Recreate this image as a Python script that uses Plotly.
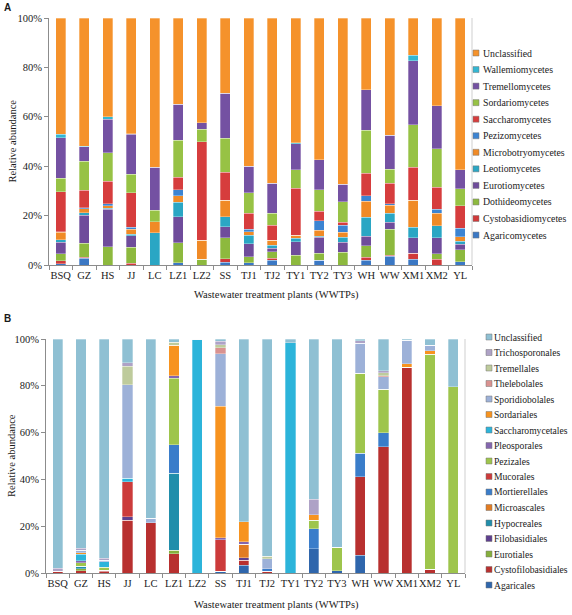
import plotly.graph_objects as go

# ---------------- data ----------------
plants = ["BSQ", "GZ", "HS", "JJ", "LC", "LZ1", "LZ2", "SS", "TJ1", "TJ2",
          "TY1", "TY2", "TY3", "WH", "WW", "XM1", "XM2", "YL"]

# Panel A: classes (relative abundance, %)
agaricomycetes      = [0.5, 2.7, 0, 0, 0, 1.0, 0, 1.2, 1.0, 2.0, 0, 2.0, 0, 2.0, 3.6, 2.4, 0, 1.3]
cystobasidiomycetes = [1.3, 0.5, 0, 0.8, 0, 0, 0, 1.3, 0, 0.7, 0, 0, 0, 1.1, 0.4, 2.3, 2.4, 0]
dothideomycetes     = [2.7, 5.7, 7.3, 6.5, 0, 8.0, 2.4, 8.5, 2.4, 2.7, 4.0, 2.7, 5.1, 4.7, 10.4, 0, 2.1, 4.8]
eurotiomycetes      = [4.7, 11.4, 15.2, 4.5, 0, 10.5, 0, 4.5, 5.1, 1.3, 5.4, 6.5, 4.1, 3.9, 2.9, 6.4, 6.6, 2.3]
leotiomycetes       = [1.0, 1.0, 0.5, 0.7, 13.1, 6.0, 0, 4.0, 3.5, 1.4, 1.4, 0.5, 2.0, 7.6, 3.6, 4.2, 4.7, 1.3]
microbotryomycetes  = [3.0, 1.5, 1.0, 2.0, 4.5, 2.5, 7.6, 6.8, 1.5, 2.0, 1.3, 2.5, 2.0, 6.6, 3.4, 11.0, 5.1, 1.8]
pezizomycetes       = [0.3, 0.5, 0.8, 0.8, 0, 2.5, 0, 0, 1.0, 0, 0, 3.8, 3.0, 2.2, 0.6, 0, 1.6, 3.3]
saccharomycetes     = [16.0, 7.1, 9.2, 14.0, 0, 5.0, 40.0, 11.2, 6.5, 6.1, 18.9, 3.8, 1.1, 9.0, 8.2, 13.2, 8.9, 9.1]
sordariomycetes     = [5.5, 11.8, 11.5, 7.5, 4.5, 15.0, 5.0, 13.8, 8.3, 4.7, 7.5, 8.8, 8.3, 17.6, 5.8, 17.2, 15.6, 6.9]
tremellomycetes     = [16.5, 5.8, 13.5, 16.2, 17.5, 14.5, 2.5, 18.2, 10.6, 12.2, 10.5, 12.1, 7.2, 16.4, 13.7, 26.0, 17.4, 7.7]
wallemiomycetes     = [1.3, 0.3, 1.0, 0.3, 0, 0, 0, 0, 0, 0, 0.5, 0, 0, 0, 0, 2.3, 0, 0]
unclassified_a      = [47.0, 52.0, 40.0, 47.0, 60.5, 35.0, 42.5, 30.5, 60.0, 67.0, 50.5, 57.5, 67.5, 29.0, 47.5, 15.0, 35.5, 61.5]

class_names = ["Agaricomycetes", "Cystobasidiomycetes", "Dothideomycetes", "Eurotiomycetes",
               "Leotiomycetes", "Microbotryomycetes", "Pezizomycetes", "Saccharomycetes",
               "Sordariomycetes", "Tremellomycetes", "Wallemiomycetes", "Unclassified"]
class_values = [agaricomycetes, cystobasidiomycetes, dothideomycetes, eurotiomycetes,
                leotiomycetes, microbotryomycetes, pezizomycetes, saccharomycetes,
                sordariomycetes, tremellomycetes, wallemiomycetes, unclassified_a]
class_colors = ["#3B78C4", "#D03A3A", "#8DB93E", "#6F4C9B", "#2AA6C4", "#F08A26",
                "#3C84D2", "#D63D3D", "#97C245", "#7451A2", "#33B6D2", "#F5922B"]

# Panel B: orders (relative abundance, %)
agaricales          = [0, 0, 0, 0, 0, 0, 0, 0.8, 3.3, 0, 0, 10.4, 1.0, 7.6, 0, 0, 0, 0]
cystofilobasidiales = [0.8, 1.0, 0.7, 22.5, 21.5, 8.3, 0, 0, 2.1, 0.8, 0, 0, 0, 33.5, 53.9, 87.9, 1.5, 0]
eurotiales          = [0, 0.8, 0.5, 0, 0, 1.4, 0, 0, 0, 0, 0, 0, 0, 0, 0, 0, 0, 0]
filobasidiales      = [0, 0, 0, 1.5, 0, 0, 0, 0, 1.2, 0, 0, 0, 0, 0, 0, 0, 0, 0]
hypocreales         = [0, 1.0, 0, 0, 0, 33.0, 0, 0, 0, 0, 0, 0, 0, 0, 0, 0, 0, 0]
microascales        = [0, 0, 0, 0, 0, 0, 0, 0, 5.7, 0, 0, 0, 0, 0, 0, 0, 0, 0]
mortierellales      = [0, 0, 0, 0, 0, 12.2, 0, 0, 0, 1.0, 0, 8.6, 0, 10.0, 6.0, 0, 0, 0]
mucorales           = [0, 0, 0, 15.0, 0, 0, 0, 13.5, 0, 0, 0, 0, 0, 0, 0, 0, 0, 0]
pezizales           = [0, 1.5, 1.2, 0, 0, 28.3, 0, 0, 0, 0, 0, 3.5, 10.1, 34.2, 18.6, 0, 92.0, 79.6]
pleosporales        = [0, 1.0, 0, 0, 0, 1.0, 0, 0.7, 1.0, 0, 0, 0, 0, 0, 0, 0, 0, 0]
saccharomycetales   = [0, 2.8, 2.3, 1.4, 0, 0, 100.0, 0, 0, 0, 98.3, 0, 0, 0, 0, 0, 0, 0]
sordariales         = [0, 0.6, 0, 0, 0, 13.2, 0, 56.3, 8.5, 0, 0, 2.5, 0, 0, 0, 1.6, 1.4, 0]
sporidiobolales     = [0, 1.0, 0.8, 40.0, 1.8, 0, 0, 22.5, 0, 4.2, 0, 0, 0, 12.9, 5.4, 10.0, 2.5, 0]
thelebolales        = [0, 0, 0, 0, 0, 0, 0, 2.5, 0, 0, 0, 0, 0, 0, 0.5, 0, 0, 0]
tremellales         = [0, 0, 0, 8.0, 0, 1.3, 0, 1.2, 0, 1.2, 0, 0, 0, 0, 1.2, 0, 0, 0]
trichosporonales    = [1.2, 0.8, 0.8, 1.4, 0, 0, 0, 1.5, 0, 0, 0, 6.5, 0, 1.1, 0.8, 0, 0, 0]
unclassified_b      = [98.0, 89.5, 93.5, 10.2, 76.7, 1.3, 0, 1.0, 78.2, 92.8, 1.7, 68.5, 88.9, 0.7, 13.6, 0.5, 2.6, 20.4]

order_names = ["Agaricales", "Cystofilobasidiales", "Eurotiales", "Filobasidiales", "Hypocreales",
               "Microascales", "Mortierellales", "Mucorales", "Pezizales", "Pleosporales",
               "Saccharomycetales", "Sordariales", "Sporidiobolales", "Thelebolales",
               "Tremellales", "Trichosporonales", "Unclassified"]
order_values = [agaricales, cystofilobasidiales, eurotiales, filobasidiales, hypocreales,
                microascales, mortierellales, mucorales, pezizales, pleosporales,
                saccharomycetales, sordariales, sporidiobolales, thelebolales,
                tremellales, trichosporonales, unclassified_b]
order_colors = ["#2F66AC", "#B8302F", "#86AF3C", "#5E3F8E", "#218EAB", "#E27C22",
                "#3A7DCA", "#CC3B3B", "#9EC54C", "#8466AE", "#2CB4DA", "#F7931F",
                "#9DB1D8", "#D99290", "#BECB9C", "#AEA2C6", "#8FC0D3"]

x_title = "Wastewater treatment plants (WWTPs)"
y_title = "Relative abundance"

# ---------------- layout helpers ----------------
W, H = 572, 615
ML, MR, MT, MB = 46, 100, 18, 42
PW, PH = W - ML - MR, H - MT - MB


def px_x(px):
    return (px - ML) / PW


def px_y(py):
    return (H - MB - py) / PH


SERIF = "Liberation Serif"
TXT = "#1a1a1a"
FS = 10.5

fig = go.Figure()

for name, vals, col in zip(class_names, class_values, class_colors):
    fig.add_trace(go.Bar(x=plants, y=vals, name=name, marker_color=col,
                         marker_line=dict(color="rgba(255,255,255,0.5)", width=0.6),
                         xaxis="x", yaxis="y", showlegend=False))

for name, vals, col in zip(order_names, order_values, order_colors):
    fig.add_trace(go.Bar(x=plants, y=vals, name=name, marker_color=col,
                         marker_line=dict(color="rgba(255,255,255,0.5)", width=0.6),
                         xaxis="x2", yaxis="y2", showlegend=False))

axis_common = dict(showline=True, linecolor="#8C8C8C", linewidth=1, ticks="outside",
                   tickcolor="#8C8C8C", ticklen=4, showgrid=False, zeroline=False,
                   automargin=False,
                   tickfont=dict(family=SERIF, size=FS, color=TXT))

xA = dict(axis_common, domain=[px_x(49), px_x(472)], anchor="y", tickson="boundaries",
          tickangle=0)
yA = dict(axis_common, domain=[px_y(265), px_y(18)], anchor="x", range=[0, 100], dtick=20,
          ticksuffix="%")
xB = dict(axis_common, domain=[px_x(46), px_x(465)], anchor="y2", tickson="boundaries",
          tickangle=0)
yB = dict(axis_common, domain=[px_y(573), px_y(339)], anchor="x2", range=[0, 100], dtick=20,
          ticksuffix="%")

shapes = []
annotations = []

# right plot-area borders (Excel style)
shapes.append(dict(type="line", xref="paper", yref="paper", x0=px_x(472), x1=px_x(472),
                   y0=px_y(265), y1=px_y(18), line=dict(color="#CFCFCF", width=1)))
shapes.append(dict(type="line", xref="paper", yref="paper", x0=px_x(465), x1=px_x(465),
                   y0=px_y(573), y1=px_y(339), line=dict(color="#CFCFCF", width=1)))


def add_text(text, x, y, size, angle=0, xanchor="center", family=SERIF):
    annotations.append(dict(xref="paper", yref="paper", x=px_x(x), y=px_y(y),
                            xanchor=xanchor, yanchor="middle", showarrow=False,
                            text=text, textangle=angle, borderpad=0,
                            font=dict(family=family, size=size, color=TXT)))


def add_legend(names, colors, x_sq, x_txt, y_top, step, fsize):
    n = len(names)
    for i in range(n):
        idx = n - 1 - i
        yc = y_top + i * step
        shapes.append(dict(type="rect", xref="paper", yref="paper",
                           x0=px_x(x_sq), x1=px_x(x_sq + 6),
                           y0=px_y(yc + 3), y1=px_y(yc - 3),
                           fillcolor=colors[idx], line=dict(color="#777777", width=0.5)))
        add_text(names[idx], x_txt, yc, fsize, xanchor="left")


add_legend(class_names, class_colors, 473, 482, 53, 16.55, 9.8)
add_legend(order_names, order_colors, 486, 493, 337, 15.5, 9.6)

# axis titles
add_text(x_title, 276, 295, FS)
add_text(x_title, 276, 605, FS)
add_text(y_title, 12, 141.5, FS, angle=-90)
add_text(y_title, 12, 456, FS, angle=-90)

# panel labels
add_text("<b>A</b>", 3, 8, 10, xanchor="left", family="Liberation Sans")
add_text("<b>B</b>", 3, 318, 10, xanchor="left", family="Liberation Sans")

fig.update_layout(
    template="none",
    width=W, height=H,
    margin=dict(l=ML, r=MR, t=MT, b=MB, autoexpand=False),
    barmode="stack", barnorm="percent", bargap=0.56,
    plot_bgcolor="white", paper_bgcolor="white",
    font=dict(family=SERIF, color=TXT),
    xaxis=xA, yaxis=yA, xaxis2=xB, yaxis2=yB,
    shapes=shapes, annotations=annotations,
    showlegend=False,
    hovermode=False,
)

fig.write_html("out.html",
               config={"displayModeBar": False},
               post_script="document.body.style.margin='0px';document.body.style.overflow='hidden';")
